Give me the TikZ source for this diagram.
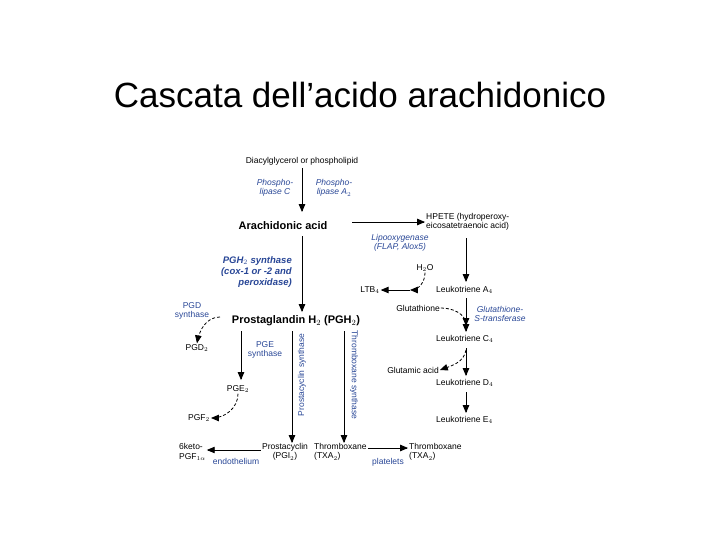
\documentclass[tikz,border=0pt]{standalone}
\usepackage{fontspec}
\setmainfont{Liberation Sans}
\usetikzlibrary{arrows,positioning}
\definecolor{enz}{RGB}{40,70,150}
\tikzset{
  t/.style={font=\fontsize{8.5}{9.5}\selectfont,inner sep=1pt,align=center},
  b/.style={font=\fontsize{11}{13}\selectfont\bfseries,inner sep=1pt},
  e/.style={t,text=enz,font=\fontsize{8.5}{9.5}\selectfont\itshape},
  arr/.style={-triangle 45,thick},
  darr/.style={-triangle 45,densely dashed,thick}
}
\begin{document}
\begin{tikzpicture}[x=1pt,y=-1pt]
\useasboundingbox (0,0) rectangle (720,540);
\node at (360,95)[font=\fontsize{35}{40}\selectfont](title){Cascata dell'acido arachidonico};
\node at (302,161)[t](dag){Diacylglycerol or phospholipid};
\node at (283,226)[b](aa){Arachidonic acid};
\node at (275,188)[e](plc){Phospho-\\lipase C};
\node at (334,188)[e](pla){Phospho-\\lipase A$_2$};
\node at (425,222)[t,align=left,anchor=west](hpete){HPETE (hydroperoxy-\\eicosatetraenoic acid)};
\node at (400,243)[e](lox){Lipooxygenase\\(FLAP, Alox5)};
\node at (293,272)[e,font=\fontsize{9.5}{11}\selectfont\bfseries\itshape,align=right,anchor=east](cox){PGH$_2$ synthase\\(cox-1 or -2 and\\peroxidase)};
\node at (296,321)[b](pgh){Prostaglandin H$_2$ (PGH$_2$)};
\node at (435,290)[t,anchor=west](lta){Leukotriene A$_4$};
\node at (370,290)[t](ltb){LTB$_4$};
\node at (425,268)[t](water){H$_2$O};
\node at (418,308)[t](glut){Glutathione};
\node at (500,314)[e](gst){Glutathione-\\S-transferase};
\node at (435,339)[t,anchor=west](ltc){Leukotriene C$_4$};
\node at (413,370)[t](gla){Glutamic acid};
\node at (435,383)[t,anchor=west](ltd){Leukotriene D$_4$};
\node at (435,420)[t,anchor=west](lte){Leukotriene E$_4$};
\node at (192,311)[t,text=enz](pgds){PGD\\synthase};
\node at (197,348)[t](pgd){PGD$_2$};
\node at (265,350)[t,text=enz](pges){PGE\\synthase};
\node at (238,389)[t](pge){PGE$_2$};
\node at (199,418)[t](pgf){PGF$_2$};
\node at (302,375)[t,text=enz,rotate=90](pgis){Prostacyclin synthase};
\node at (354,375)[t,text=enz,rotate=-90](txs){Thromboxane synthase};
\node at (178,452)[t,align=left,anchor=west](keto){6keto-\\PGF$_{1\alpha}$};
\node at (236,461)[t,text=enz](endo){endothelium};
\node at (285,452)[t](pgi){Prostacyclin\\(PGI$_2$)};
\node at (313,452)[t,align=left,anchor=west](txa){Thromboxane\\(TXA$_2$)};
\node at (388,462)[t,text=enz](plt){platelets};
\node at (408,452)[t,align=left,anchor=west](txb){Thromboxane\\(TXA$_2$)};
\coordinate (ltaw) at (410,290);
\coordinate (ltcs) at (466,350);
\coordinate (pgdc) at (220,317);
\draw[arr] (302,168) -- (302,212);
\draw[arr] (352,222) -- (hpete.west|-0,222);
\draw[arr] (302,236) -- (302,312);
\draw[arr] (466,238) -- (466,282);
\draw[arr] (ltaw) -- (ltb.east);
\draw[darr] (water.south) to[out=-90,in=0] (ltaw);
\draw[arr] (466,298) -- (466,332);
\draw[darr] (glut.east) to[out=0,in=90] (466,326);
\draw[arr] (466,348) -- (466,376);
\draw[darr] (ltcs) to[out=-100,in=20] (gla.east);
\draw[arr] (466,392) -- (466,413);
\draw[darr] (pgdc) to[out=180,in=80] (pgd.north);
\draw[arr] (241,331) -- (241,380);
\draw[darr] (pge.south) to[out=-90,in=0] (pgf.east);
\draw[arr] (292,331) -- (292,443);
\draw[arr] (344,331) -- (344,443);
\draw[arr] (pgi.west|-0,450) -- (keto.east|-0,450);
\draw[arr] (txa.east|-0,448) -- (txb.west|-0,448);
\end{tikzpicture}
\end{document}
